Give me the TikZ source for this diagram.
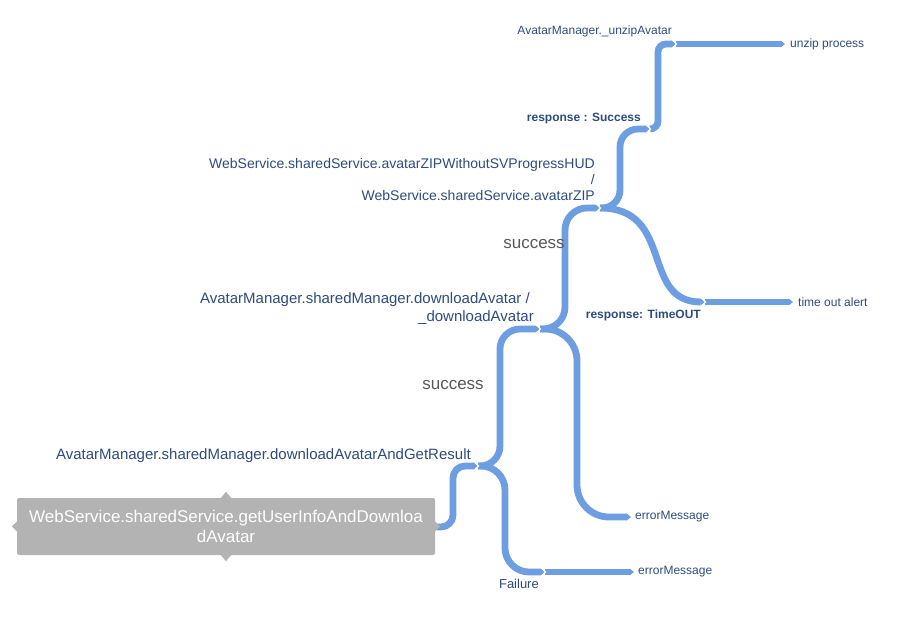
\documentclass[tikz,border=0pt]{standalone}
\usepackage{fontspec}
\setmainfont{Liberation Sans}
\usepackage{tikz}
\usetikzlibrary{arrows.meta, positioning}
\usepackage{xcolor}
\definecolor{mapblue}{HTML}{6D9EE2}
\definecolor{maptext}{HTML}{2F4B7C}
\definecolor{rootgray}{HTML}{B3B3B3}
\definecolor{succgray}{HTML}{595959}
\tikzset{%
	branch/.style={
		draw=mapblue,
		line width=6.8pt,
		rounded corners=20pt,
		-{Triangle[length=4.5pt, width=6.8pt]}
	},
	notch/.style={
		draw=white,
		line width=1.2pt
	},
	rootbox/.style={
		fill=rootgray,
		text=white,
		rounded corners=2pt,
		minimum width=418pt,
		minimum height=57pt,
		inner sep=0pt,
		align=center,
		font=\fontsize{17}{20}\selectfont
	},
	topic/.style={
		text=maptext,
		inner sep=0pt,
		align=right,
		font=\fontsize{15}{18}\selectfont
	},
	subtopic/.style={
		topic,
		font=\fontsize{14}{16}\selectfont
	},
	tag/.style={
		topic,
		font=\fontsize{12}{14}\selectfont\bfseries
	},
	leaf/.style={
		text=maptext,
		inner sep=0pt,
		font=\fontsize{12}{14}\selectfont
	},
	edgetext/.style={
		text=succgray,
		inner sep=0pt,
		font=\fontsize{17}{20}\selectfont
	},
}
\begin{document}
\begin{tikzpicture}[x=1pt, y=-1pt]
	\useasboundingbox (0,0) rectangle (920,620);
	
	% root
	\node[rootbox] (root) at (226,526.5) {WebService.sharedService.getUserInfoAndDownloa\\dAvatar};
	\fill[rootgray] ([xshift=-5pt]root.north) -- ++(5pt,6pt) -- ++(5pt,-6pt) -- cycle;
	\fill[rootgray] ([xshift=-5pt]root.south) -- ++(5pt,-6pt) -- ++(5pt,6pt) -- cycle;
	\fill[rootgray] ([yshift=5pt]root.west) -- ++(-5pt,-5pt) -- ++(5pt,-5pt) -- cycle;
	
	% junctions and ends
	\coordinate (rootR) at (437,527);
	\coordinate (getres) at (478,466);
	\coordinate (dl) at (540,329);
	\coordinate (zip) at (600,208);
	\coordinate (succ) at (650,129);
	\coordinate (unzip) at (676,44);
	\coordinate (unzipend) at (785,44);
	\coordinate (tout) at (705,302);
	\coordinate (toutend) at (793,302);
	\coordinate (err1) at (631,517);
	\coordinate (fail) at (545,572);
	\coordinate (err2) at (634,572);
	
	% branches
	\draw[branch, rounded corners=12pt] (rootR) -- ++(16,0) |- (getres);
	\draw[branch] (getres) -- ++(22,0) |- (dl);
	\draw[branch, rounded corners=24pt] (getres) -- ++(27,0) |- (fail);
	\draw[branch] (fail) -- (err2);
	\draw[branch, rounded corners=22pt] (dl) -- ++(25,0) |- (zip);
	\draw[branch, rounded corners=32pt] (dl) -- ++(37,0) |- (err1);
	\draw[branch, rounded corners=18pt] (zip) -- ++(20,0) |- (succ);
	\draw[branch] (zip) .. controls (675,208) and (640,302) .. (tout);
	\draw[branch] (tout) -- (toutend);
	\draw[branch, rounded corners=8pt] (succ) -- ++(8,0) |- (unzip);
	\draw[branch] (unzip) -- (unzipend);
	
	% notches
	\fill[rootgray] ([yshift=5pt]root.east) -- ++(5pt,-5pt) -- ++(-5pt,-5pt) -- cycle;
	\draw[notch] ([shift={(-4pt,4.5pt)}]getres) -- ([xshift=0.5pt]getres) -- ([shift={(-4pt,-4.5pt)}]getres);
	\draw[notch] ([shift={(-4pt,4.5pt)}]dl) -- ([xshift=0.5pt]dl) -- ([shift={(-4pt,-4.5pt)}]dl);
	\draw[notch] ([shift={(-4pt,4.5pt)}]zip) -- ([xshift=0.5pt]zip) -- ([shift={(-4pt,-4.5pt)}]zip);
	\draw[notch] ([shift={(-4pt,4.5pt)}]succ) -- ([xshift=0.5pt]succ) -- ([shift={(-4pt,-4.5pt)}]succ);
	\draw[notch] ([shift={(-4pt,4.5pt)}]unzip) -- ([xshift=0.5pt]unzip) -- ([shift={(-4pt,-4.5pt)}]unzip);
	\draw[notch] ([shift={(-4pt,4.5pt)}]tout) -- ([xshift=0.5pt]tout) -- ([shift={(-4pt,-4.5pt)}]tout);
	\draw[notch] ([shift={(-4pt,4.5pt)}]fail) -- ([xshift=0.5pt]fail) -- ([shift={(-4pt,-4.5pt)}]fail);
	
	% topic labels
	\node[topic, left=7pt of getres, anchor=base east, yshift=7pt] (getresLbl) {AvatarManager.sharedManager.downloadAvatarAndGetResult};
	\node[topic, left=6pt of dl, anchor=south east, yshift=4.5pt] (dlLbl) {AvatarManager.sharedManager.downloadAvatar /\hspace*{4pt}\\\_downloadAvatar};
	\node[subtopic, left=5pt of zip, anchor=south east, yshift=7pt] (zipLbl) {WebService.sharedService.avatarZIPWithoutSVProgressHUD\\/\hspace*{3pt}\\WebService.sharedService.avatarZIP};
	\node[tag, left=9pt of succ, anchor=base east, yshift=7pt] (succLbl) {response : Success};
	\node[leaf, left=4pt of unzip, anchor=base east, yshift=9pt] (unzipLbl) {AvatarManager.\_unzipAvatar};
	\node[tag, left=4pt of tout, anchor=base east, yshift=-16.5pt] (toutLbl) {response: TimeOUT};
	\node[leaf, left=6pt of fail, anchor=base east, yshift=-16pt, font=\fontsize{13}{15}\selectfont] (failLbl) {Failure};
	
	% edge labels
	\node[edgetext] (success1) at (453,385) {success};
	\node[edgetext] (success2) at (534,244) {success};
	
	% leaves
	\node[leaf, right=5pt of unzipend] (unzipproc) {unzip process};
	\node[leaf, right=5pt of toutend] (alert) {time out alert};
	\node[leaf, right=4pt of err1] (errmsg1) {errorMessage};
	\node[leaf, right=4pt of err2] (errmsg2) {errorMessage};
\end{tikzpicture}
\end{document}
